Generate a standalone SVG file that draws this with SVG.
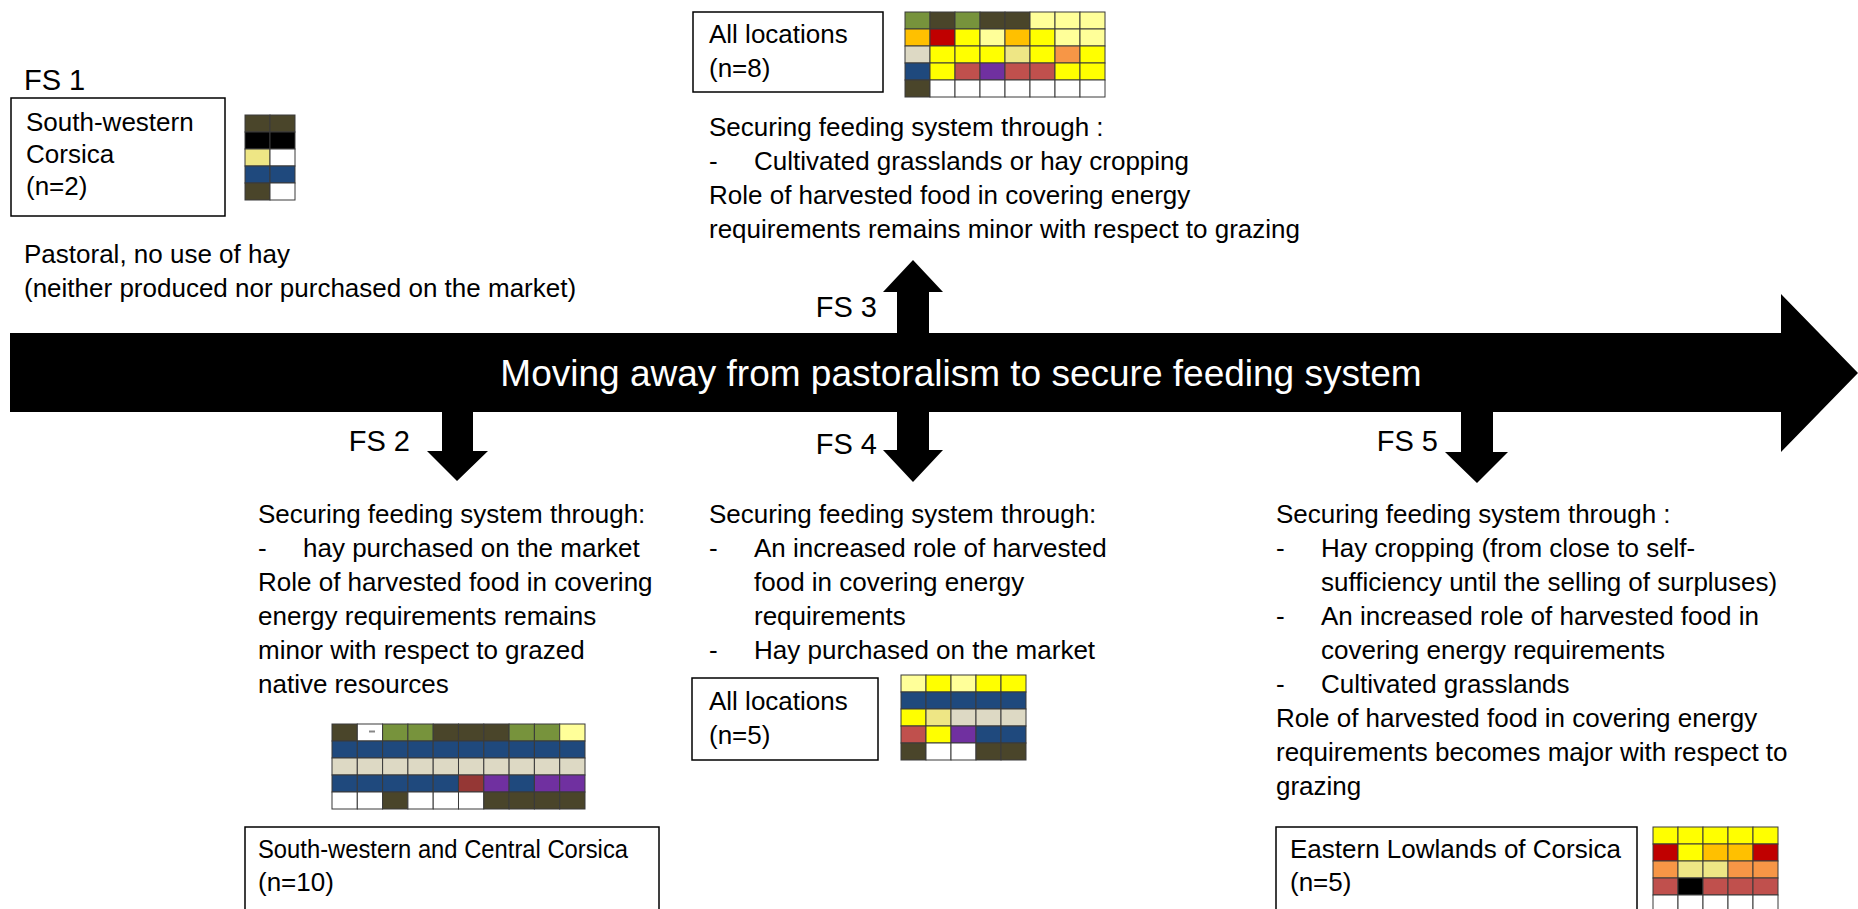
<svg xmlns="http://www.w3.org/2000/svg" width="1858" height="909" viewBox="0 0 1858 909">
<style>
text{font-family:"Liberation Sans",Arial,sans-serif;fill:#000}
.t{font-size:26px}
.fs{font-size:29px}
.title{font-size:37px;fill:#fff}
.box{fill:#fff;stroke:#000;stroke-width:1.5}
.g rect{stroke:#3a3a3a;stroke-width:1}
.do{fill:#4a452a}.gr{fill:#77933c}.ly{fill:#ffff99}.or{fill:#ffc000}.rd{fill:#c00000}
.ye{fill:#ffff00}.be{fill:#ddd9c4}.kh{fill:#eee685}.sa{fill:#f79646}.bl{fill:#1f497d}
.ro{fill:#c0504d}.pu{fill:#7030a0}.dr{fill:#953735}.bk{fill:#000}.wh{fill:#fff}
</style>
<rect width="1858" height="909" fill="#fff"/>
<g id="connectors">
<polygon id="main-arrow" points="10,333 1781,333 1781,294 1858,373 1781,452 1781,412 10,412" fill="#000"/>
<polygon id="arrow-fs3" points="897,333 897,292 883,292 913,260 943,292 929,292 929,333" fill="#000"/>
<polygon id="arrow-fs4" points="897,412 897,450 883,450 913,482 943,450 929,450 929,412" fill="#000"/>
<polygon id="arrow-fs2" points="442,412 442,451 427,451 457,481 488,451 473,451 473,412" fill="#000"/>
<polygon id="arrow-fs5" points="1461,412 1461,452 1445,452 1477,483 1508,452 1493,452 1493,412" fill="#000"/>
<text class="title" x="961" y="386" text-anchor="middle">Moving away from pastoralism to secure feeding system</text>
</g>
<g id="fs1">
<text class="fs" x="24" y="90">FS 1</text>
<rect class="box" x="11" y="98" width="214" height="118"/>
<text class="t" x="26" y="131">South-western</text>
<text class="t" x="26" y="163">Corsica</text>
<text class="t" x="26" y="195">(n=2)</text>
<g class="g" transform="translate(245,115)">
<rect class="do" x="0" y="0" width="25" height="17"/><rect class="do" x="25" y="0" width="25" height="17"/>
<rect class="bk" x="0" y="17" width="25" height="17"/><rect class="bk" x="25" y="17" width="25" height="17"/>
<rect class="kh" x="0" y="34" width="25" height="17"/><rect class="wh" x="25" y="34" width="25" height="17"/>
<rect class="bl" x="0" y="51" width="25" height="17"/><rect class="bl" x="25" y="51" width="25" height="17"/>
<rect class="do" x="0" y="68" width="25" height="17"/><rect class="wh" x="25" y="68" width="25" height="17"/>
</g>
<text class="t" x="24" y="263">Pastoral, no use of hay</text>
<text class="t" x="24" y="297">(neither produced nor purchased on the market)</text>
</g>
<g id="fs3">
<rect class="box" x="693" y="12" width="190" height="80"/>
<text class="t" x="709" y="43">All locations</text>
<text class="t" x="709" y="77">(n=8)</text>
<g class="g" transform="translate(905,12)">
<rect class="gr" x="0" y="0" width="25" height="17"/><rect class="do" x="25" y="0" width="25" height="17"/><rect class="gr" x="50" y="0" width="25" height="17"/><rect class="do" x="75" y="0" width="25" height="17"/><rect class="do" x="100" y="0" width="25" height="17"/><rect class="ly" x="125" y="0" width="25" height="17"/><rect class="ly" x="150" y="0" width="25" height="17"/><rect class="ly" x="175" y="0" width="25" height="17"/>
<rect class="or" x="0" y="17" width="25" height="17"/><rect class="rd" x="25" y="17" width="25" height="17"/><rect class="ye" x="50" y="17" width="25" height="17"/><rect class="ly" x="75" y="17" width="25" height="17"/><rect class="or" x="100" y="17" width="25" height="17"/><rect class="ye" x="125" y="17" width="25" height="17"/><rect class="ly" x="150" y="17" width="25" height="17"/><rect class="ly" x="175" y="17" width="25" height="17"/>
<rect class="be" x="0" y="34" width="25" height="17"/><rect class="ye" x="25" y="34" width="25" height="17"/><rect class="ye" x="50" y="34" width="25" height="17"/><rect class="ye" x="75" y="34" width="25" height="17"/><rect class="kh" x="100" y="34" width="25" height="17"/><rect class="ye" x="125" y="34" width="25" height="17"/><rect class="sa" x="150" y="34" width="25" height="17"/><rect class="ye" x="175" y="34" width="25" height="17"/>
<rect class="bl" x="0" y="51" width="25" height="17"/><rect class="ye" x="25" y="51" width="25" height="17"/><rect class="ro" x="50" y="51" width="25" height="17"/><rect class="pu" x="75" y="51" width="25" height="17"/><rect class="ro" x="100" y="51" width="25" height="17"/><rect class="ro" x="125" y="51" width="25" height="17"/><rect class="ye" x="150" y="51" width="25" height="17"/><rect class="ye" x="175" y="51" width="25" height="17"/>
<rect class="do" x="0" y="68" width="25" height="17"/><rect class="wh" x="25" y="68" width="25" height="17"/><rect class="wh" x="50" y="68" width="25" height="17"/><rect class="wh" x="75" y="68" width="25" height="17"/><rect class="wh" x="100" y="68" width="25" height="17"/><rect class="wh" x="125" y="68" width="25" height="17"/><rect class="wh" x="150" y="68" width="25" height="17"/><rect class="wh" x="175" y="68" width="25" height="17"/>
</g>
<text class="t" x="709" y="136">Securing feeding system through :</text>
<text class="t" x="709" y="170">-</text><text class="t" x="754" y="170">Cultivated grasslands or hay cropping</text>
<text class="t" x="709" y="204">Role of harvested food in covering energy</text>
<text class="t" x="709" y="238">requirements remains minor with respect to grazing</text>
<text class="fs" x="877" y="317" text-anchor="end">FS 3</text>
</g>
<g id="fs2">
<text class="fs" x="410" y="451" text-anchor="end">FS 2</text>
<text class="t" x="258" y="523">Securing feeding system through:</text>
<text class="t" x="258" y="557">-</text><text class="t" x="303" y="557">hay purchased on the market</text>
<text class="t" x="258" y="591">Role of harvested food in covering</text>
<text class="t" x="258" y="625">energy requirements remains</text>
<text class="t" x="258" y="659">minor with respect to grazed</text>
<text class="t" x="258" y="693">native resources</text>
<g class="g" transform="translate(332,724) scale(1.012,1)">
<rect class="do" x="0" y="0" width="25" height="17"/><rect class="wh" x="25" y="0" width="25" height="17"/><rect class="gr" x="50" y="0" width="25" height="17"/><rect class="gr" x="75" y="0" width="25" height="17"/><rect class="do" x="100" y="0" width="25" height="17"/><rect class="do" x="125" y="0" width="25" height="17"/><rect class="do" x="150" y="0" width="25" height="17"/><rect class="gr" x="175" y="0" width="25" height="17"/><rect class="gr" x="200" y="0" width="25" height="17"/><rect class="ly" x="225" y="0" width="25" height="17"/>
<rect class="bl" x="0" y="17" width="25" height="17"/><rect class="bl" x="25" y="17" width="25" height="17"/><rect class="bl" x="50" y="17" width="25" height="17"/><rect class="bl" x="75" y="17" width="25" height="17"/><rect class="bl" x="100" y="17" width="25" height="17"/><rect class="bl" x="125" y="17" width="25" height="17"/><rect class="bl" x="150" y="17" width="25" height="17"/><rect class="bl" x="175" y="17" width="25" height="17"/><rect class="bl" x="200" y="17" width="25" height="17"/><rect class="bl" x="225" y="17" width="25" height="17"/>
<rect class="be" x="0" y="34" width="25" height="17"/><rect class="be" x="25" y="34" width="25" height="17"/><rect class="be" x="50" y="34" width="25" height="17"/><rect class="be" x="75" y="34" width="25" height="17"/><rect class="be" x="100" y="34" width="25" height="17"/><rect class="be" x="125" y="34" width="25" height="17"/><rect class="be" x="150" y="34" width="25" height="17"/><rect class="be" x="175" y="34" width="25" height="17"/><rect class="be" x="200" y="34" width="25" height="17"/><rect class="be" x="225" y="34" width="25" height="17"/>
<rect class="bl" x="0" y="51" width="25" height="17"/><rect class="bl" x="25" y="51" width="25" height="17"/><rect class="bl" x="50" y="51" width="25" height="17"/><rect class="bl" x="75" y="51" width="25" height="17"/><rect class="bl" x="100" y="51" width="25" height="17"/><rect class="dr" x="125" y="51" width="25" height="17"/><rect class="pu" x="150" y="51" width="25" height="17"/><rect class="bl" x="175" y="51" width="25" height="17"/><rect class="pu" x="200" y="51" width="25" height="17"/><rect class="pu" x="225" y="51" width="25" height="17"/>
<rect class="wh" x="0" y="68" width="25" height="17"/><rect class="wh" x="25" y="68" width="25" height="17"/><rect class="do" x="50" y="68" width="25" height="17"/><rect class="wh" x="75" y="68" width="25" height="17"/><rect class="wh" x="100" y="68" width="25" height="17"/><rect class="wh" x="125" y="68" width="25" height="17"/><rect class="do" x="150" y="68" width="25" height="17"/><rect class="do" x="175" y="68" width="25" height="17"/><rect class="do" x="200" y="68" width="25" height="17"/><rect class="do" x="225" y="68" width="25" height="17"/>
</g>
<line x1="369" y1="731.5" x2="375" y2="731.5" stroke="#888" stroke-width="2"/>
<rect class="box" x="245" y="827" width="414" height="90"/>
<text class="t" x="258" y="858" textLength="370" lengthAdjust="spacingAndGlyphs">South-western and Central Corsica</text>
<text class="t" x="258" y="891">(n=10)</text>
</g>
<g id="fs4">
<text class="fs" x="877" y="454" text-anchor="end">FS 4</text>
<text class="t" x="709" y="523">Securing feeding system through:</text>
<text class="t" x="709" y="557">-</text><text class="t" x="754" y="557">An increased role of harvested</text>
<text class="t" x="754" y="591">food in covering energy</text>
<text class="t" x="754" y="625">requirements</text>
<text class="t" x="709" y="659">-</text><text class="t" x="754" y="659">Hay purchased on the market</text>
<rect class="box" x="692" y="678" width="186" height="82"/>
<text class="t" x="709" y="710">All locations</text>
<text class="t" x="709" y="744">(n=5)</text>
<g class="g" transform="translate(901,675)">
<rect class="ly" x="0" y="0" width="25" height="17"/><rect class="ye" x="25" y="0" width="25" height="17"/><rect class="ly" x="50" y="0" width="25" height="17"/><rect class="ye" x="75" y="0" width="25" height="17"/><rect class="ye" x="100" y="0" width="25" height="17"/>
<rect class="bl" x="0" y="17" width="25" height="17"/><rect class="bl" x="25" y="17" width="25" height="17"/><rect class="bl" x="50" y="17" width="25" height="17"/><rect class="bl" x="75" y="17" width="25" height="17"/><rect class="bl" x="100" y="17" width="25" height="17"/>
<rect class="ye" x="0" y="34" width="25" height="17"/><rect class="kh" x="25" y="34" width="25" height="17"/><rect class="be" x="50" y="34" width="25" height="17"/><rect class="be" x="75" y="34" width="25" height="17"/><rect class="be" x="100" y="34" width="25" height="17"/>
<rect class="ro" x="0" y="51" width="25" height="17"/><rect class="ye" x="25" y="51" width="25" height="17"/><rect class="pu" x="50" y="51" width="25" height="17"/><rect class="bl" x="75" y="51" width="25" height="17"/><rect class="bl" x="100" y="51" width="25" height="17"/>
<rect class="do" x="0" y="68" width="25" height="17"/><rect class="wh" x="25" y="68" width="25" height="17"/><rect class="wh" x="50" y="68" width="25" height="17"/><rect class="do" x="75" y="68" width="25" height="17"/><rect class="do" x="100" y="68" width="25" height="17"/>
</g>
</g>
<g id="fs5">
<text class="fs" x="1438" y="451" text-anchor="end">FS 5</text>
<text class="t" x="1276" y="523">Securing feeding system through :</text>
<text class="t" x="1276" y="557">-</text><text class="t" x="1321" y="557">Hay cropping (from close to self-</text>
<text class="t" x="1321" y="591">sufficiency until the selling of surpluses)</text>
<text class="t" x="1276" y="625">-</text><text class="t" x="1321" y="625">An increased role of harvested food in</text>
<text class="t" x="1321" y="659">covering energy requirements</text>
<text class="t" x="1276" y="693">-</text><text class="t" x="1321" y="693">Cultivated grasslands</text>
<text class="t" x="1276" y="727">Role of harvested food in covering energy</text>
<text class="t" x="1276" y="761">requirements becomes major with respect to</text>
<text class="t" x="1276" y="795">grazing</text>
<rect class="box" x="1276" y="827" width="361" height="90"/>
<text class="t" x="1290" y="858">Eastern Lowlands of Corsica</text>
<text class="t" x="1290" y="891">(n=5)</text>
<g class="g" transform="translate(1653,827)">
<rect class="ye" x="0" y="0" width="25" height="17"/><rect class="ye" x="25" y="0" width="25" height="17"/><rect class="ye" x="50" y="0" width="25" height="17"/><rect class="ye" x="75" y="0" width="25" height="17"/><rect class="ye" x="100" y="0" width="25" height="17"/>
<rect class="rd" x="0" y="17" width="25" height="17"/><rect class="ye" x="25" y="17" width="25" height="17"/><rect class="or" x="50" y="17" width="25" height="17"/><rect class="or" x="75" y="17" width="25" height="17"/><rect class="rd" x="100" y="17" width="25" height="17"/>
<rect class="sa" x="0" y="34" width="25" height="17"/><rect class="kh" x="25" y="34" width="25" height="17"/><rect class="kh" x="50" y="34" width="25" height="17"/><rect class="sa" x="75" y="34" width="25" height="17"/><rect class="sa" x="100" y="34" width="25" height="17"/>
<rect class="ro" x="0" y="51" width="25" height="17"/><rect class="bk" x="25" y="51" width="25" height="17"/><rect class="ro" x="50" y="51" width="25" height="17"/><rect class="ro" x="75" y="51" width="25" height="17"/><rect class="ro" x="100" y="51" width="25" height="17"/>
<rect class="wh" x="0" y="68" width="25" height="17"/><rect class="wh" x="25" y="68" width="25" height="17"/><rect class="wh" x="50" y="68" width="25" height="17"/><rect class="wh" x="75" y="68" width="25" height="17"/><rect class="wh" x="100" y="68" width="25" height="17"/>
</g>
</g>
</svg>
